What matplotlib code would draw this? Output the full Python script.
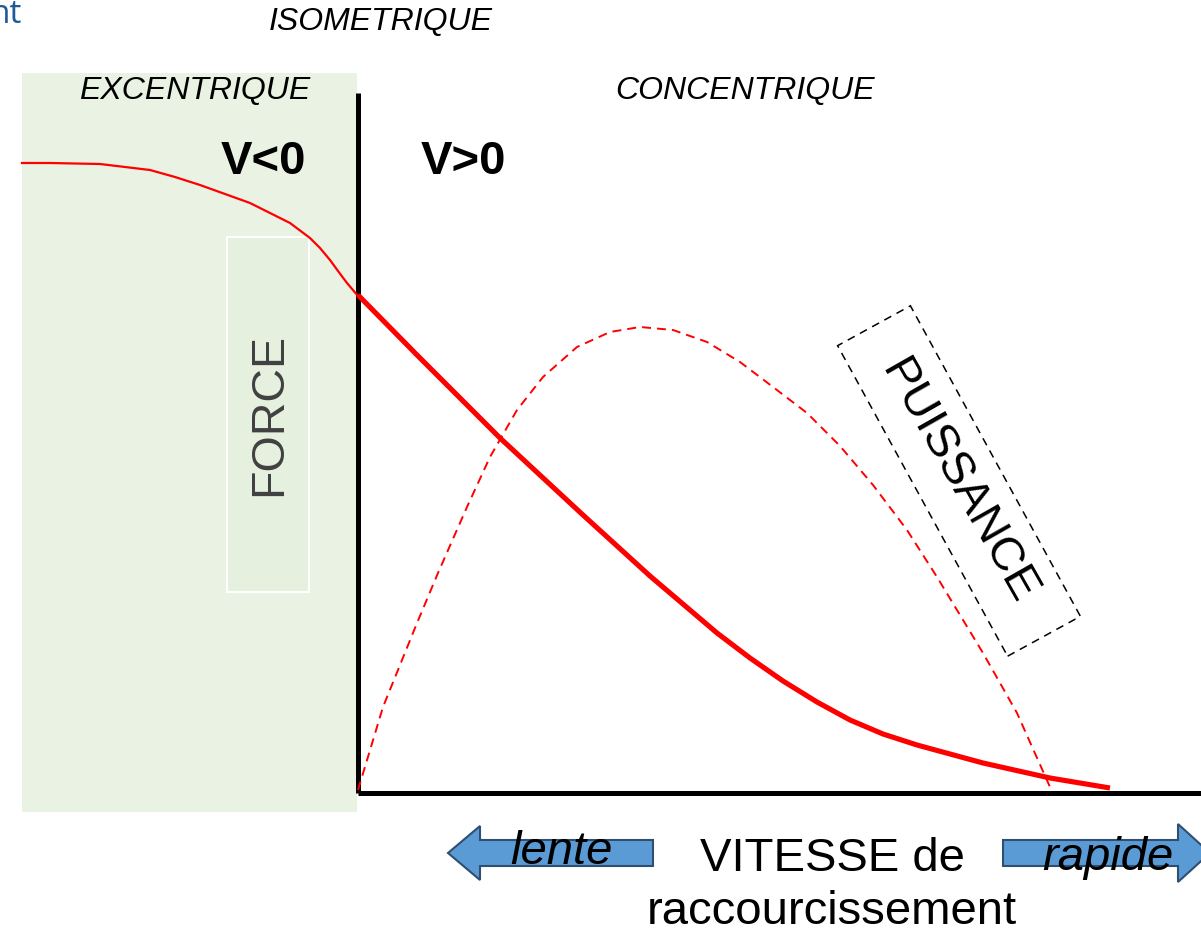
import matplotlib.pyplot as plt
from matplotlib.patches import Rectangle, FancyArrow

# units: 1 = 100 px, origin at the axes corner
# force curve, eccentric part (thin)
ecc_v = [-3.36, -3.08, -2.58, -2.33, -2.08, -1.83, -1.58, -1.33, -1.08, -0.88, -0.68, -0.48,
         -0.38, -0.28, -0.20, -0.11, 0.0]
ecc_f = [6.30, 6.30, 6.29, 6.26, 6.23, 6.16, 6.08, 5.99, 5.90, 5.80, 5.70, 5.55,
         5.45, 5.33, 5.22, 5.10, 4.97]
# force curve, concentric part (thick)
con_v = [0.0, 0.59, 1.42, 2.25, 2.92, 3.59, 3.92, 4.25, 4.59, 4.92, 5.25, 5.59, 6.25, 6.92, 7.52]
con_f = [4.98, 4.38, 3.55, 2.78, 2.17, 1.60, 1.35, 1.12, 0.91, 0.73, 0.59, 0.48, 0.30, 0.15, 0.05]
# power curve (dashed)
power_v = [0.0, 0.25, 0.59, 0.80, 1.09, 1.32, 1.59, 1.85, 2.19, 2.52, 2.82, 3.15, 3.49, 3.82,
           4.15, 4.49, 4.82, 5.15, 5.49, 5.79, 6.25, 6.59, 6.92]
power_f = [0.03, 0.86, 1.70, 2.20, 2.86, 3.36, 3.83, 4.16, 4.46, 4.61, 4.66, 4.63, 4.51, 4.31,
           4.06, 3.80, 3.47, 3.08, 2.63, 2.16, 1.40, 0.80, 0.06]

fig = plt.figure(figsize=(12.01, 9.35), dpi=100)
ax = fig.add_axes([0, 0, 1, 1])
ax.set_xlim(-3.58, 8.43)
ax.set_ylim(-1.42, 7.93)
ax.axis("off")
plt.rcParams["font.family"] = ["Liberation Sans", "DejaVu Sans"]

# excentric zone
ax.add_patch(Rectangle((-3.36, -0.19), 3.35, 7.39, fc="#EAF2E3", ec="none", zorder=0))
ax.add_patch(Rectangle((-1.31, 2.01), 0.82, 3.55, fc="#E6F0DE", ec="white", lw=1.5, zorder=1))
ax.text(-0.89, 3.78, "FORCE", rotation=90, ha="center", va="center", fontsize=33.5, color="#404040")

# axes
ax.plot([0, 0], [0.0, 7.0], color="black", lw=3.6, solid_capstyle="butt", zorder=3)
ax.plot([0, 8.43], [0.0, 0.0], color="black", lw=3.6, solid_capstyle="butt", zorder=3)

# curves
ax.plot(ecc_v, ecc_f, color="red", lw=1.6, zorder=4)
ax.plot(con_v, con_f, color="red", lw=3.7, solid_capstyle="butt", zorder=4)
ax.plot(power_v, power_f, color="red", lw=1.4, ls=(0, (4.6, 3.1)), zorder=4)

# labels
ax.text(-1.63, 7.02, "EXCENTRIQUE", style="italic", fontsize=23, ha="center", va="center")
ax.text(0.23, 7.71, "ISOMETRIQUE", style="italic", fontsize=23, ha="center", va="center")
ax.text(3.87, 7.02, "CONCENTRIQUE", style="italic", fontsize=23, ha="center", va="center")
ax.text(-0.95, 6.31, "V<0", weight="bold", fontsize=34, ha="center", va="center")
ax.text(1.05, 6.31, "V>0", weight="bold", fontsize=34, ha="center", va="center")
ax.text(6.0, 3.11, "PUISSANCE", rotation=-60.4, ha="center", va="center", fontsize=34)
ax.add_patch(Rectangle((6.01 - 0.415, 3.12 - 1.77), 0.83, 3.54, angle=28.7, rotation_point="center",
                       fc="none", ec="black", ls=(0, (5.2, 3.9)), lw=1.1, zorder=4))

# speed arrows
ax.add_patch(FancyArrow(2.95, -0.60, -1.73, 0, width=0.26, head_width=0.54, head_length=0.32,
                        length_includes_head=False, fc="#5B9BD5", ec="#2F4F70", lw=1.5, zorder=3))
ax.add_patch(FancyArrow(6.45, -0.60, 1.75, 0, width=0.26, head_width=0.58, head_length=0.32,
                        length_includes_head=False, fc="#5B9BD5", ec="#2F4F70", lw=1.5, zorder=3))
ax.text(2.03, -0.59, "lente", style="italic", fontsize=34, ha="center", va="center", zorder=5)
ax.text(7.5, -0.65, "rapide", style="italic", fontsize=34, ha="center", va="center", zorder=5)
ax.text(4.74, -0.66, "VITESSE de", fontsize=34, ha="center", va="center")
ax.text(4.74, -1.19, "raccourcissement", fontsize=34, ha="center", va="center")

ax.text(-3.37, 7.95, "nt", fontsize=24, color="#1F5A96", ha="right", va="top", family="Open Sans")

plt.savefig("out.png", dpi=100)
